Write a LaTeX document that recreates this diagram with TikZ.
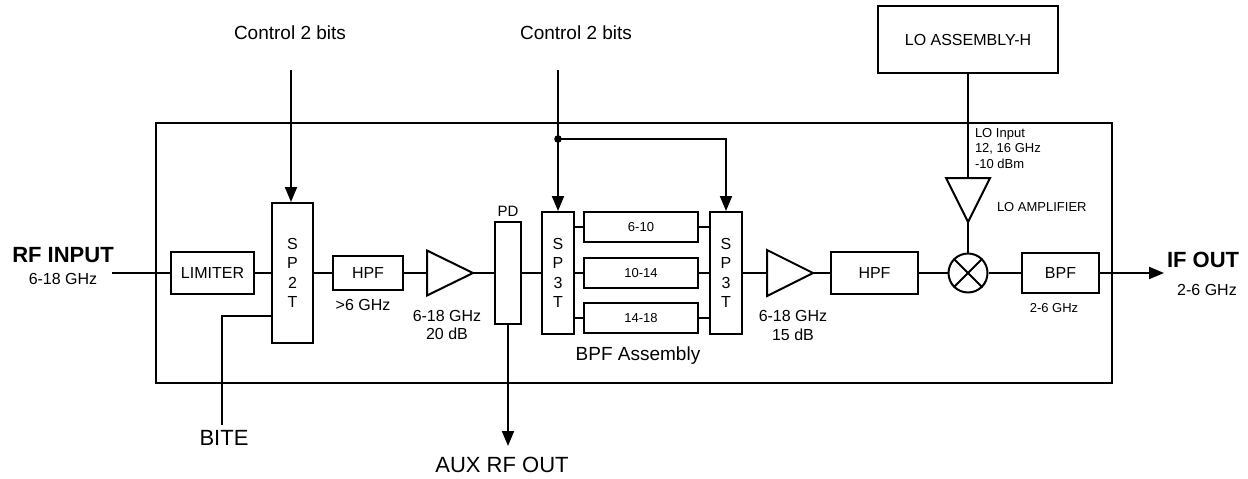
\documentclass[tikz,border=0pt]{standalone}
\usepackage{fontspec}
\setmainfont{Liberation Sans}
\usetikzlibrary{arrows.meta}
\begin{document}
\begin{tikzpicture}[x=1pt,y=-1pt,line width=2pt,
  box/.style={draw,rectangle,inner sep=0pt,line width=2pt},
  ftA/.style={font=\fontsize{13}{15.5}\selectfont},
  ftB/.style={font=\fontsize{16}{19.5}\selectfont},
  ftC/.style={font=\fontsize{19}{22}\selectfont},
  ftD/.style={font=\fontsize{22}{26}\selectfont},
  ftE/.style={font=\fontsize{22}{26}\selectfont\bfseries},
  arr/.style={-{Triangle[length=15pt,width=12pt]}},
  sw/.style={box,align=center,font=\fontsize{16}{19.5}\selectfont}]
\useasboundingbox (0,0) rectangle (1248,479);

% outer enclosure
\draw (156,123) rectangle (1112,383);

% blocks
\node[box,ftB,minimum width=83pt,minimum height=42pt] (lim) at (212.5,273) {LIMITER};
\node[sw,minimum width=41pt,minimum height=140pt] (sp2t) at (292.5,273) {S\\P\\2\\T};
\node[box,ftB,minimum width=70pt,minimum height=34pt] (hpf1) at (368,273) {HPF};
\draw (427,250.5) -- (473,273) -- (427,295.5) -- cycle;
\coordinate (a1in) at (427,273);
\coordinate (a1out) at (473,273);
\node[box,minimum width=26pt,minimum height=102pt] (pd) at (508,273) {};
\node[sw,minimum width=32pt,minimum height=122pt] (sp3a) at (558,273) {S\\P\\3\\T};
\node[box,ftA,minimum width=114pt,minimum height=30pt] (f1) at (641,227) {6-10};
\node[box,ftA,minimum width=114pt,minimum height=30pt] (f2) at (641,273) {10-14};
\node[box,ftA,minimum width=114pt,minimum height=30pt] (f3) at (641,318) {14-18};
\node[sw,minimum width=32pt,minimum height=122pt] (sp3b) at (726,273) {S\\P\\3\\T};
\draw (767,250) -- (813,273) -- (767,296) -- cycle;
\coordinate (a2in) at (767,273);
\coordinate (a2out) at (813,273);
\node[box,ftB,minimum width=87pt,minimum height=42pt] (hpf2) at (874.5,273) {HPF};
\node[draw,circle,inner sep=0pt,minimum size=39pt] (mix) at (968,273) {};
\draw (mix.north east) -- (mix.south west) (mix.north west) -- (mix.south east);
\node[box,ftB,minimum width=77pt,minimum height=40pt] (bpf) at (1060.5,273) {BPF};
\node[box,ftB,minimum width=180pt,minimum height=67pt] (lo) at (968,39.5) {LO ASSEMBLY-H};
\draw (946,178) -- (990,178) -- (968,222) -- cycle;
\coordinate (loin) at (968,178);
\coordinate (loout) at (968,222);

% free ends
\coordinate (rfin) at (112,273);
\coordinate (ifout) at (1164,273);
\coordinate (c1) at (291,70);
\coordinate (c2) at (558,70);
\coordinate (dot) at (558,139);
\coordinate (bite) at (222,425);
\coordinate (aux) at (508,446);

% signal chain
\draw (rfin) -- (lim.west);
\draw (lim.east) -- (sp2t.west |- lim.east);
\draw (sp2t.east |- hpf1.west) -- (hpf1.west);
\draw (hpf1.east) -- (a1in);
\draw (a1out) -- (pd.west |- a1out);
\draw (pd.east |- a1out) -- (sp3a.west |- a1out);
\draw (sp3a.east |- f1.west) -- (f1.west);
\draw (sp3a.east |- f2.west) -- (f2.west);
\draw (sp3a.east |- f3.west) -- (f3.west);
\draw (f1.east) -- (sp3b.west |- f1.east);
\draw (f2.east) -- (sp3b.west |- f2.east);
\draw (f3.east) -- (sp3b.west |- f3.east);
\draw (sp3b.east |- a2in) -- (a2in);
\draw (a2out) -- (hpf2.west);
\draw (hpf2.east) -- (mix.west);
\draw (mix.east) -- (bpf.west);
\draw[arr] (bpf.east) -- (ifout);
\draw (lo.south) -- (loin);
\draw (loout) -- (mix.north);

% control
\draw[arr] (c1) -- (c1 |- sp2t.north);
\draw[arr] (c2) -- (sp3a.north);
\draw[arr] (dot) -- (dot -| sp3b.north) -- (sp3b.north);
\fill (dot) circle (3.8pt);

% BITE and AUX
\draw (sp2t.west |- 0,316) -- (222,316) -- (bite);
\draw[arr] (pd.south) -- (aux);

% labels
\node[ftC] (t1) at (290,33) {Control 2 bits};
\node[ftC] (t2) at (576,33) {Control 2 bits};
\node[ftE] (t3) at (63,255) {RF INPUT};
\node[ftB] (t4) at (63,279) {6-18 GHz};
\node[ftB] (t5) at (363,305) {>6 GHz};
\node[ftB] (t6) at (447,316) {6-18 GHz};
\node[ftB] (t7) at (447,334) {20 dB};
\node[font=\fontsize{15}{18}\selectfont] (t8) at (508,211) {PD};
\node[ftC] (t9) at (638,356) {BPF Assembly};
\node[ftD] (t10) at (502,465) {AUX RF OUT};
\node[ftD] (t11) at (224,438) {BITE};
\node[ftB] (t12) at (793,316) {6-18 GHz};
\node[ftB] (t13) at (793,335) {15 dB};
\node[ftA,anchor=west,inner sep=0pt] (t14) at (974,134) {LO Input};
\node[ftA,anchor=west,inner sep=0pt] (t15) at (974,149) {12, 16 GHz};
\node[ftA,anchor=west,inner sep=0pt] (t16) at (974,164) {-10 dBm};
\node[ftA,anchor=west,inner sep=0pt] (t17) at (996,207) {LO AMPLIFIER};
\node[ftA] (t18) at (1054,308) {2-6 GHz};
\node[ftE,anchor=west,inner sep=0pt] (t19) at (1166,260) {IF OUT};
\node[ftB] (t20) at (1207,290) {2-6 GHz};
\end{tikzpicture}
\end{document}
